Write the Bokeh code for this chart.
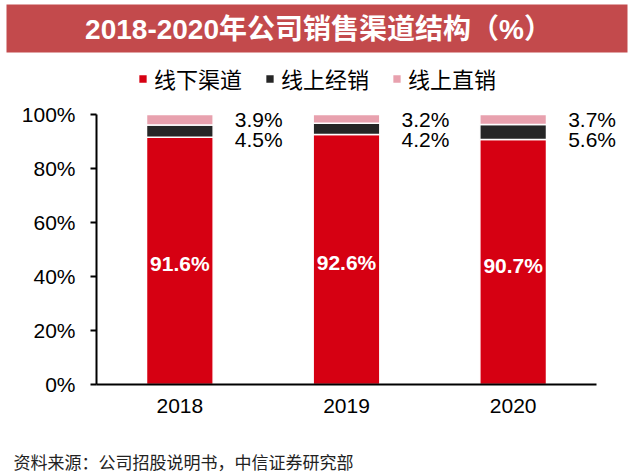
from bokeh.plotting import figure
from bokeh.models import ColumnDataSource, Range1d, FixedTicker, LabelSet
from bokeh.embed import file_html
from bokeh.resources import INLINE
from bokeh.core.properties import value

# ---- data ----
years = ["2018", "2019", "2020"]
offline = [91.6, 92.6, 90.7]          # 线下渠道
online_dist = [4.5, 4.2, 5.6]         # 线上经销
online_direct = [3.9, 3.2, 3.7]       # 线上直销
series_labels = ["线下渠道", "线上经销", "线上直销"]
y_ticks = [0, 20, 40, 60, 80, 100]
y_tick_labels = ["0%", "20%", "40%", "60%", "80%", "100%"]
title_text = "2018-2020年公司销售渠道结构（%）"
source_text = "资料来源：公司招股说明书，中信证券研究部"

colors = ["#d60012", "#262626", "#e8a1ae"]
LATIN = "Liberation Sans"
CJK = "Noto Sans CJK SC"
MIXED = "Liberation Sans, Noto Sans CJK SC"
W = 633

# ---- header band (page y 0..60) ----
header = figure(width=W, height=60, x_range=Range1d(0, W), y_range=Range1d(60, 0),
                x_axis_location=None, y_axis_location=None, min_border=0,
                output_backend="svg", toolbar_location=None)
header.grid.visible = False
header.outline_line_color = None
header.quad(left=[6], right=[627], top=[4], bottom=[52], fill_color="#c34a4c", line_color=None)
header.text(x=[318], y=[28.5], text=[title_text], text_color="white",
            text_font=value(MIXED), text_font_size="28px", text_font_style="bold",
            text_align="center", text_baseline="middle")

# ---- main chart (page y 60..442) ----
x_pos = [i + 0.5 for i in range(len(years))]
source = ColumnDataSource(data=dict(
    x=x_pos,
    offline=offline,
    online_dist=online_dist,
    online_direct=online_direct,
    mid=[v / 2 for v in offline],
    top=[a + b + c for a, b, c in zip(offline, online_dist, online_direct)],
    t_off=[f"{v:.1f}%" for v in offline],
    t_dist=[f"{v:.1f}%" for v in online_dist],
    t_dir=[f"{v:.1f}%" for v in online_direct],
))

# frame: x 96..633 (3 categories on 96..596), y 60..384 (0..100% on 114..384)
p = figure(width=W, height=382, x_range=Range1d(0, 537 / (500 / 3)), y_range=Range1d(0, 120),
           min_border_left=96, min_border_right=0, min_border_top=0, min_border_bottom=58,
           output_backend="svg", toolbar_location=None)

p.vbar_stack(["offline", "online_dist", "online_direct"], x="x", width=0.40,
             fill_color=colors, line_color="white", line_width=1.5, source=source,
             legend_label=series_labels)

p.xgrid.grid_line_color = None
p.ygrid.grid_line_color = None
p.outline_line_color = None

p.xaxis.ticker = FixedTicker(ticks=x_pos)
p.xaxis.major_label_overrides = dict(zip(x_pos, years))
p.xaxis.bounds = (0, len(years))
p.xaxis.axis_line_width = 2
p.xaxis.axis_line_color = "black"
p.xaxis.major_tick_line_color = None
p.xaxis.minor_tick_line_color = None
p.xaxis.major_label_text_font = LATIN
p.xaxis.major_label_text_font_size = "21px"
p.xaxis.major_label_text_color = "black"
p.xaxis.major_label_standoff = 8

p.yaxis.ticker = FixedTicker(ticks=y_ticks)
p.yaxis.major_label_overrides = dict(zip(y_ticks, y_tick_labels))
p.yaxis.bounds = (0, 100)
p.yaxis.axis_line_width = 2
p.yaxis.axis_line_color = "black"
p.yaxis.major_tick_line_width = 2
p.yaxis.major_tick_out = 6
p.yaxis.major_tick_in = 0
p.yaxis.minor_tick_line_color = None
p.yaxis.major_label_text_font = LATIN
p.yaxis.major_label_text_font_size = "21px"
p.yaxis.major_label_text_color = "black"
p.yaxis.major_label_standoff = 15

leg = p.legend[0]
leg.orientation = "horizontal"
leg.location = (41, 290)
leg.background_fill_alpha = 0
leg.border_line_color = None
leg.padding = 0
leg.margin = 0
leg.spacing = 22
leg.glyph_width = 11
leg.glyph_height = 11
leg.label_standoff = 6
leg.label_text_font = CJK
leg.label_text_font_size = "22px"
leg.label_text_color = "black"
leg.label_height = 20

inner = LabelSet(x="x", y="mid", text="t_off", source=source, text_color="white",
                 text_font=value(LATIN), text_font_size="21px", text_font_style="bold",
                 text_align="center", text_baseline="middle", y_offset=-3)
outer_dir = LabelSet(x="x", y="top", text="t_dir", source=source, text_color="black",
                     text_font=value(LATIN), text_font_size="21px",
                     text_align="left", text_baseline="middle", x_offset=55, y_offset=-4.5)
outer_dist = LabelSet(x="x", y="top", text="t_dist", source=source, text_color="black",
                      text_font=value(LATIN), text_font_size="21px",
                      text_align="left", text_baseline="middle", x_offset=55, y_offset=-25)
p.add_layout(inner)
p.add_layout(outer_dir)
p.add_layout(outer_dist)

# ---- footer (page y 442..474) ----
footer = figure(width=W, height=32, x_range=Range1d(0, W), y_range=Range1d(474, 442),
                x_axis_location=None, y_axis_location=None, min_border=0,
                output_backend="svg", toolbar_location=None)
footer.grid.visible = False
footer.outline_line_color = None
footer.text(x=[13], y=[461], text=[source_text], text_color="#222222",
            text_font=value(CJK), text_font_size="17px",
            text_align="left", text_baseline="middle")

open("out.html", "w").write(file_html([header, p, footer], INLINE))
